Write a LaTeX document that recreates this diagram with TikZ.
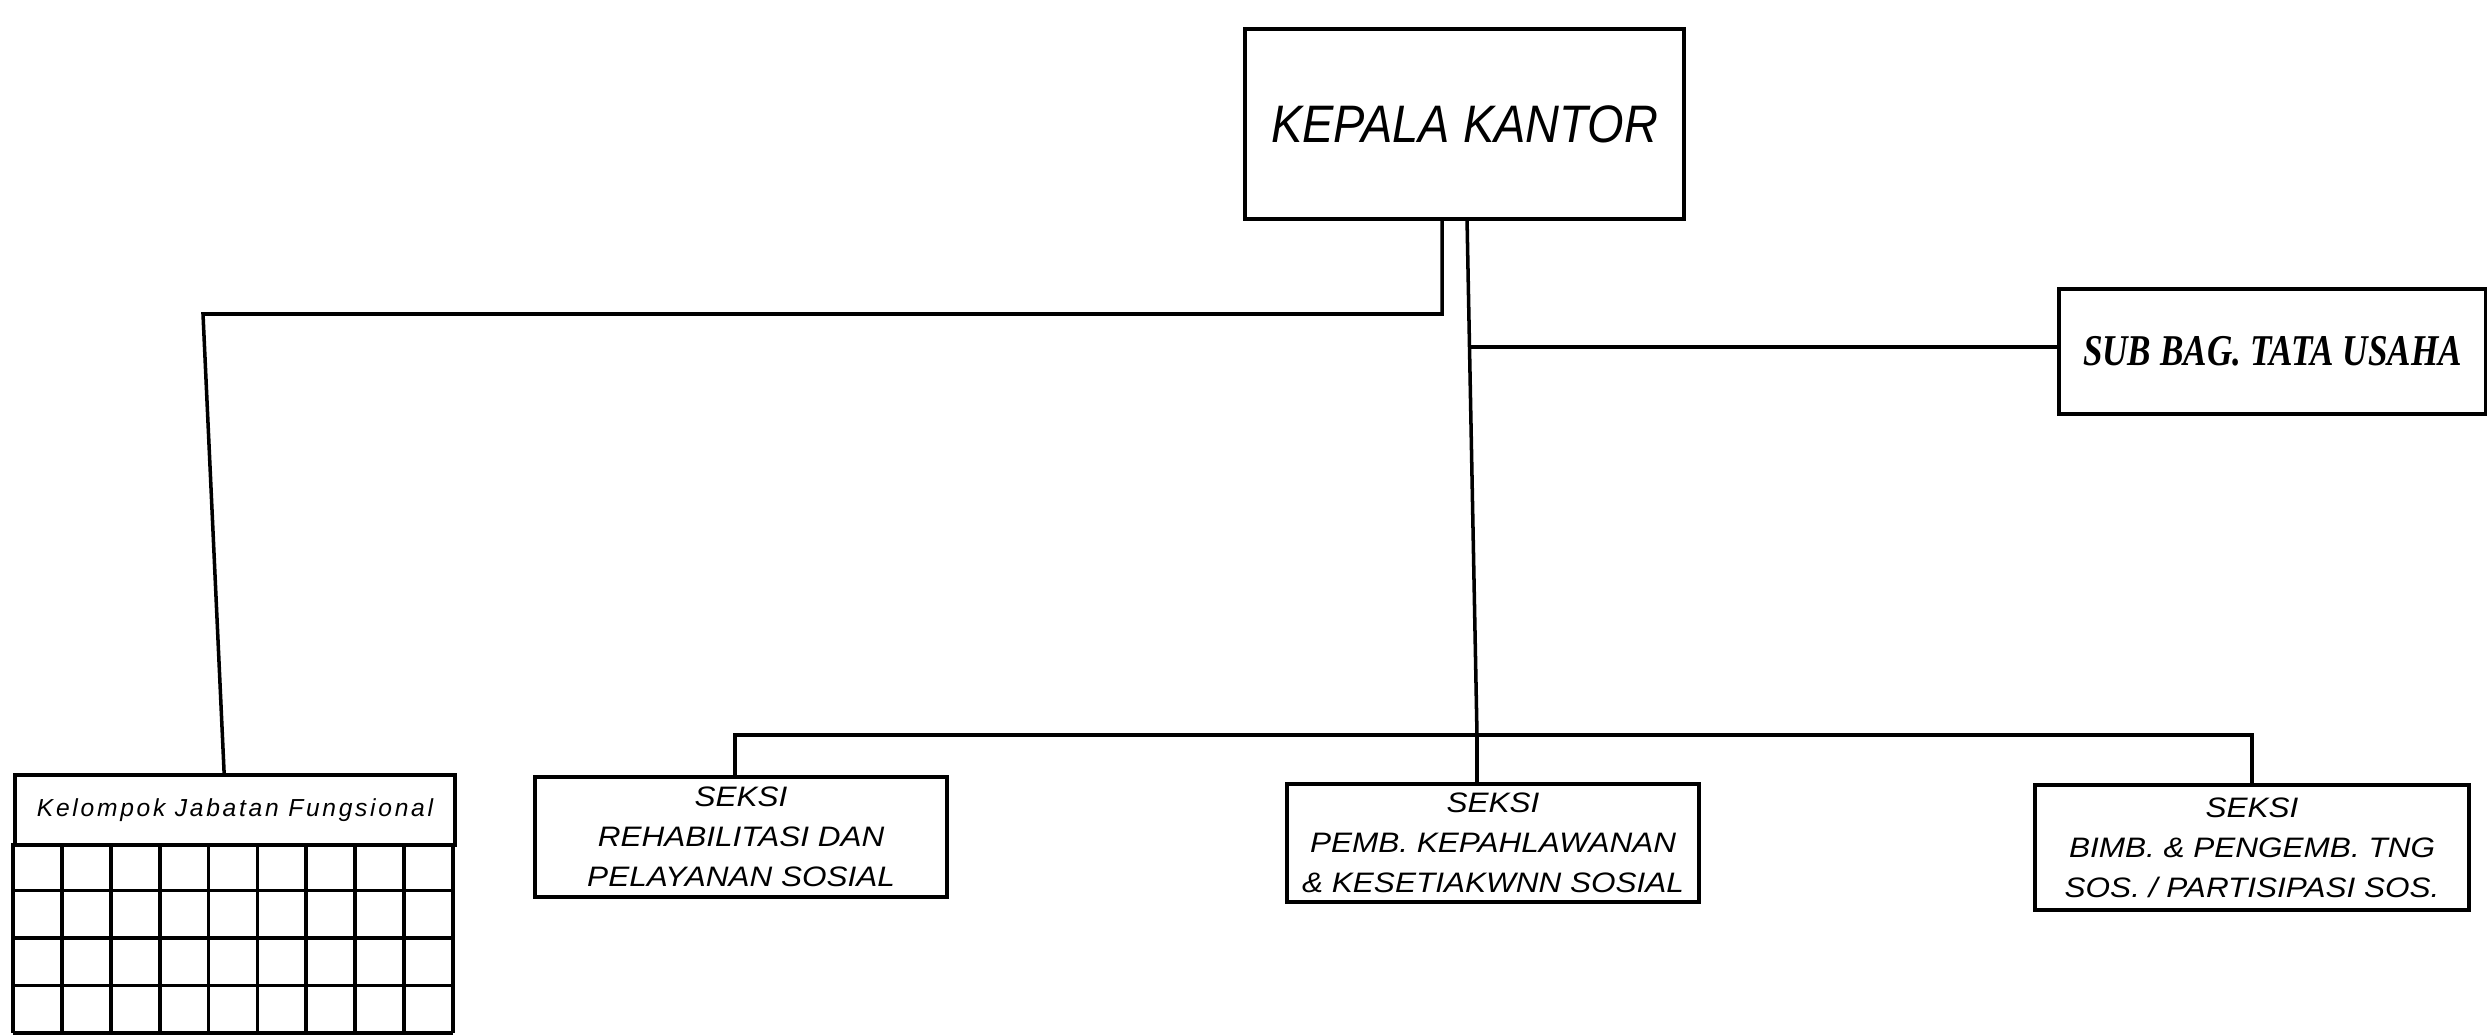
\documentclass[tikz,border=0pt]{standalone}
\usepackage{fontspec}
\setmainfont{Liberation Sans}
\newfontfamily\headfont[FakeStretch=0.89]{Liberation Sans}
\newfontfamily\subfont[FakeStretch=0.8]{Liberation Serif}
\newfontfamily\seksifont[FakeStretch=1.12]{Liberation Sans}
\newfontfamily\kelfont[LetterSpace=11]{Liberation Sans}
\tikzset{
  box/.style={draw, line width=1.1pt, rectangle, inner sep=0pt, align=center, anchor=north west},
  conn/.style={line width=1pt},
  seksitext/.style={font={\seksifont\itshape\fontsize{8}{11.4}\selectfont}}
}
\begin{document}
\begin{tikzpicture}[x=0.01cm, y=-0.01cm]
\useasboundingbox (0,0) rectangle (2487,1036);
% boxes
\node[box, minimum width=4.39cm, minimum height=1.90cm,
      font={\headfont\itshape\fontsize{15}{18}\selectfont}] (kepala) at (1243,27) {KEPALA KANTOR};
\node[box, minimum width=4.27cm, minimum height=1.25cm,
      font={\subfont\bfseries\itshape\fontsize{12.5}{15}\selectfont}] (subbag) at (2057,287) {SUB BAG. TATA USAHA};
\node[box, minimum width=4.40cm, minimum height=0.70cm,
      font={\kelfont\itshape\fontsize{7}{8}\selectfont}] (kel) at (13,773) {Kelompok Jabatan Fungsional};
\node[box, seksitext, minimum width=4.12cm, minimum height=1.20cm] (s1) at (533,775)
  {SEKSI\\REHABILITASI DAN\\PELAYANAN SOSIAL};
\node[box, seksitext, minimum width=4.12cm, minimum height=1.18cm] (s2) at (1285,782)
  {SEKSI\\PEMB. KEPAHLAWANAN\\\& KESETIAKWNN SOSIAL};
\node[box, seksitext, minimum width=4.34cm, minimum height=1.25cm] (s3) at (2033,783)
  {SEKSI\\BIMB. \& PENGEMB. TNG\\SOS. / PARTISIPASI SOS.};
% grid under Kelompok Jabatan Fungsional
\foreach \i in {0,...,9} \draw[line width=1.1pt] ({13+\i*48.89},843) -- ({13+\i*48.89},1033);
\foreach \j in {1,...,4} \draw[line width=1.1pt] (13,{843+\j*47.5}) -- (453,{843+\j*47.5});
% connectors
\coordinate (lj) at (1442,314);
\coordinate (lk) at (203,314);
\coordinate (bus) at (1477,735);
\coordinate (sbj) at (1468,347);
\draw[conn] (kepala.south -| lj) -- (lj) -- (lk) -- ([xshift=2.11cm]kel.north west);
\draw[conn] ([xshift=0.025cm]kepala.south) -- (bus);
\draw[conn] (sbj) -- (sbj -| subbag.west);
\draw[conn] ([xshift=-0.06cm]s1.north) |- (bus) -| (s3.north);
\draw[conn] (bus) -- (bus |- s2.north);
\end{tikzpicture}
\end{document}
